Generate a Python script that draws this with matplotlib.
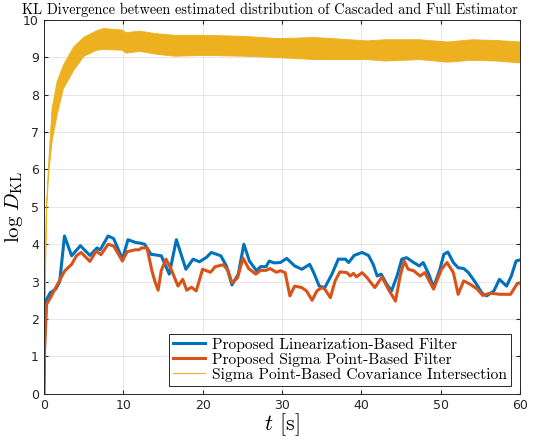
import numpy as np
import matplotlib.pyplot as plt
from matplotlib.lines import Line2D

plt.rcParams['mathtext.fontset'] = 'cm'
plt.rcParams['font.family'] = 'DejaVu Sans'

# Linearization-based filter (blue)
t_lin = [0.0, 0.1, 0.3, 0.8, 1.5, 2.0, 2.6, 3.5, 4.6, 5.8, 6.7, 7.1, 8.1, 8.8, 9.9, 10.6,
         11.5, 12.1, 12.7, 13.5, 14.8, 15.8, 16.7, 17.9, 18.8, 19.6, 20.5, 21.1, 22.3, 23.0,
         23.7, 24.5, 25.2, 25.9, 26.8, 27.3, 28.0, 28.4, 29.0, 29.8, 30.6, 31.6, 32.5, 33.5,
         34.0, 34.7, 35.4, 36.3, 37.1, 38.0, 38.4, 39.1, 40.1, 40.9, 41.5, 42.0, 42.5, 43.2,
         43.8, 44.5, 45.1, 45.7, 46.6, 47.3, 47.8, 48.5, 49.1, 49.9, 50.4, 50.9, 51.6, 52.2,
         52.9, 53.5, 54.4, 55.2, 55.8, 56.7, 57.4, 58.3, 58.9, 59.5, 60.0]
d_lin = [0.0, 1.5, 2.5, 2.7, 2.8, 3.0, 4.22, 3.69, 3.96, 3.7, 3.9, 3.85, 4.22, 4.15, 3.6, 4.12,
         4.05, 4.03, 4.0, 3.73, 3.69, 3.2, 4.12, 3.33, 3.6, 3.53, 3.65, 3.78, 3.69, 3.42,
         2.91, 3.2, 4.0, 3.55, 3.29, 3.4, 3.4, 3.55, 3.5, 3.51, 3.62, 3.42, 3.33, 3.46,
         3.24, 2.88, 2.84, 3.2, 3.6, 3.6, 3.51, 3.7, 3.78, 3.7, 3.46, 3.15, 3.2, 2.93,
         2.75, 3.15, 3.6, 3.64, 3.51, 3.42, 3.51, 3.2, 2.84, 3.33, 3.73, 3.79, 3.51, 3.37,
         3.35, 3.24, 2.97, 2.69, 2.62, 2.75, 3.06, 2.88, 3.15, 3.55, 3.58]

# Sigma point-based filter (red)
t_sp = [0.0, 0.1, 0.34, 0.97, 1.6, 2.64, 3.5, 4.1, 4.7, 5.3, 5.8, 6.6, 7.2, 8.1, 8.8, 9.9,
        10.5, 11.5, 12.0, 12.3, 13.0, 13.3, 13.6, 14.0, 14.4, 14.8, 15.4, 16.1, 16.9, 17.5,
        18.0, 18.6, 19.2, 20.0, 21.0, 21.6, 22.6, 23.2, 23.7, 24.4, 25.1, 25.8, 26.7, 27.3,
        28.0, 28.5, 29.3, 29.8, 30.4, 31.0, 31.6, 32.5, 33.1, 33.8, 34.4, 35.0, 35.4, 36.1,
        36.7, 37.3, 38.2, 38.6, 39.0, 39.4, 40.1, 40.7, 41.7, 42.6, 43.4, 44.3, 44.9, 45.4,
        45.9, 46.6, 47.4, 48.0, 49.1, 50.1, 50.8, 51.6, 52.2, 52.9, 53.7, 54.6, 55.3, 56.2,
        57.5, 58.8, 59.6, 60.0]
d_sp = [0.0, 1.2, 2.39, 2.62, 2.88, 3.29, 3.46, 3.69, 3.78, 3.65, 3.54, 3.82, 3.72, 4.0, 3.95, 3.55,
        3.8, 3.85, 3.85, 3.9, 3.9, 3.6, 3.3, 3.0, 2.77, 3.3, 3.6, 3.3, 2.88, 3.06,
        2.77, 2.85, 2.75, 3.33, 3.25, 3.4, 3.45, 3.3, 2.97, 3.1, 3.63, 3.35, 3.2, 3.3,
        3.3, 3.35, 3.25, 3.29, 3.24, 2.62, 2.88, 2.84, 2.75, 2.5, 2.75, 2.84, 2.8, 2.57,
        3.02, 3.26, 3.24, 3.15, 3.22, 3.13, 3.24, 3.11, 2.84, 3.12, 2.8, 2.48, 3.15, 3.55,
        3.33, 3.29, 3.15, 3.24, 2.8, 3.33, 3.51, 3.24, 2.66, 3.02, 2.93, 2.8, 2.63, 2.69,
        2.66, 2.66, 2.93, 2.97]

# Sigma point-based covariance intersection (yellow band, upper/lower envelope)
t_ci = [0.0, 0.1, 0.25, 0.55, 0.97, 1.6, 2.4, 3.7, 5.0, 6.6, 7.5, 9.8, 10.3, 12.0, 14.2,
        16.4, 20.0, 25.2, 29.6, 34.0, 38.5, 40.7, 42.9, 47.3, 50.8, 53.9, 57.0, 60.0]
ci_hi = [0.0, 2.5, 5.0, 6.2, 7.64, 8.35, 8.8, 9.29, 9.55, 9.72, 9.78, 9.74, 9.67, 9.71, 9.64,
         9.6, 9.6, 9.57, 9.51, 9.54, 9.48, 9.45, 9.48, 9.48, 9.42, 9.48, 9.46, 9.42]
ci_lo = [0.0, 2.4, 4.8, 5.9, 6.75, 7.46, 8.17, 8.66, 9.04, 9.2, 9.22, 9.2, 9.12, 9.17, 9.09,
         9.04, 9.06, 9.04, 9.0, 8.95, 8.95, 8.95, 8.91, 8.95, 8.88, 8.93, 8.91, 8.86]

blue = '#0072BD'
red = '#D95319'
yellow = '#EDB120'

fig = plt.figure(figsize=(5.48, 4.40), dpi=100)
ax = fig.add_axes([0.080, 0.105, 0.869, 0.85])

ax.fill_between(t_ci, ci_lo, ci_hi, color=yellow, linewidth=0.6, edgecolor=yellow)
ax.plot(t_lin, d_lin, color=blue, lw=2.2)
ax.plot(t_sp, d_sp, color=red, lw=2.2)

ax.set_xlim(0, 60)
ax.set_ylim(0, 10)
ax.set_xticks(np.arange(0, 61, 10))
ax.set_yticks(np.arange(0, 11, 1))
ax.grid(True, color='#e6e6e6', linewidth=0.7)
ax.set_axisbelow(True)
ax.tick_params(direction='in', top=True, right=True, labelsize=9, colors='#262626', length=3)
for s in ax.spines.values():
    s.set_color('#262626')
    s.set_linewidth(0.7)

fig.text(0.492, 0.977, 'KL Divergence between estimated distribution of Cascaded and Full Estimator',
         family='cmr10', fontsize=10.3, ha='center', va='center')
ax.set_xlabel(r'$t$ [s]', family='cmr10', fontsize=16, labelpad=0)
ax.set_ylabel(r'$\log\,D_{\rm KL}$', fontsize=15)
ax.yaxis.set_label_coords(-0.04, 0.5)

handles = [Line2D([], [], color=blue, lw=2.2),
           Line2D([], [], color=red, lw=2.2),
           Line2D([], [], color=yellow, lw=0.8)]
labels = ['Proposed Linearization-Based Filter',
          'Proposed Sigma Point-Based Filter',
          'Sigma Point-Based Covariance Intersection']
leg = ax.legend(handles, labels, loc='lower right', bbox_to_anchor=(0.98, 0.022),
                prop={'family': 'cmr10', 'size': 11.2}, fancybox=False, framealpha=1,
                edgecolor='#262626', borderpad=0.25, labelspacing=0.05, handlelength=2.1,
                handletextpad=0.4, borderaxespad=0)
leg.get_frame().set_linewidth(0.7)

fig.savefig('out.png', dpi=100)
